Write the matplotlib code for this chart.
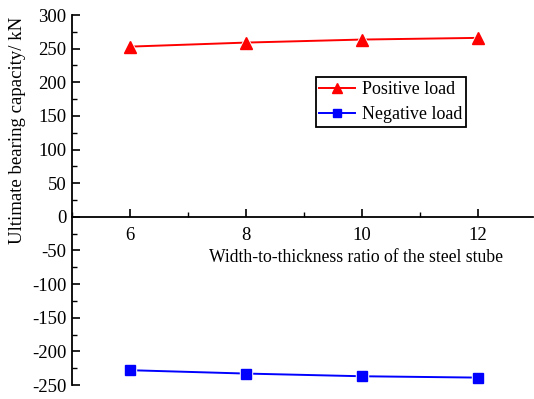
import matplotlib
matplotlib.use("Agg")
import matplotlib.pyplot as plt
from matplotlib.ticker import MultipleLocator

ratios = [6, 8, 10, 12]
positive_load = [253, 259, 263.5, 266]
negative_load = [-228, -233, -237, -239]
xticks = [6, 8, 10, 12]
yticks = [300, 250, 200, 150, 100, 50, 0, -50, -100, -150, -200, -250]

plt.rcParams['font.family'] = ['Liberation Serif', 'DejaVu Serif']
plt.rcParams['axes.unicode_minus'] = False

W, H = 534, 399
fig = plt.figure(figsize=(W / 100, H / 100), dpi=100)
L, R, T, B = 72, 533, 15, 385
ax = fig.add_axes([L / W, 1 - B / H, (R - L) / W, (B - T) / H])

ax.set_xlim(5, 12.95)
ax.set_ylim(-250, 300)

# lines with gaps around markers
ax.plot(ratios, positive_load, color='red', lw=1.4, zorder=2)
ax.plot(ratios, positive_load, ls='none', marker='^', ms=11, color='white', zorder=3)
ax.plot(ratios, positive_load, ls='none', marker='^', ms=8, color='red', zorder=4)
ax.plot(ratios, negative_load, color='blue', lw=1.4, zorder=2)
ax.plot(ratios, negative_load, ls='none', marker='s', ms=9, color='white', zorder=3)
ax.plot(ratios, negative_load, ls='none', marker='s', ms=6.5, color='blue', zorder=4)

# legend handles
h1, = ax.plot([], [], color='red', lw=1.4, marker='^', ms=7, label='Positive load')
h2, = ax.plot([], [], color='blue', lw=1.4, marker='s', ms=6, label='Negative load')
leg = ax.legend(handles=[h1, h2], loc='upper left',
                bbox_to_anchor=((315.7 - L) / (R - L), (B - 77.3) / (B - T)),
                borderaxespad=0, fancybox=False, edgecolor='black', framealpha=1,
                fontsize=13, handlelength=2.0, handletextpad=0.35,
                borderpad=0.2, labelspacing=0.45)
leg.get_frame().set_linewidth(1.3)

ax.spines['top'].set_visible(False)
ax.spines['right'].set_visible(False)
ax.spines['bottom'].set_position(('data', 0))
ax.spines['left'].set_linewidth(1.3)
ax.spines['bottom'].set_linewidth(1.3)

ax.set_xticks(xticks)
ax.set_xticklabels([str(v) for v in xticks])
ax.xaxis.set_minor_locator(MultipleLocator(1))
ax.set_yticks(yticks)
ax.set_yticklabels([str(v) for v in yticks])
ax.yaxis.set_minor_locator(MultipleLocator(25))

ax.tick_params(axis='both', which='major', direction='in', length=6, width=1.2,
               labelsize=13.5, pad=4)
ax.tick_params(axis='both', which='minor', direction='in', length=3.5, width=1.0)
ax.tick_params(axis='x', which='major', pad=7)

fig.text(356 / W, 1 - 257 / H, 'Width-to-thickness ratio of the steel stube',
         fontsize=12.7, ha='center', va='center')
fig.text(18 / W, 1 - 130 / H, 'Ultimate bearing capacity/ kN', rotation=90,
         fontsize=13.5, ha='center', va='center')

fig.savefig('out.png', dpi=100)
